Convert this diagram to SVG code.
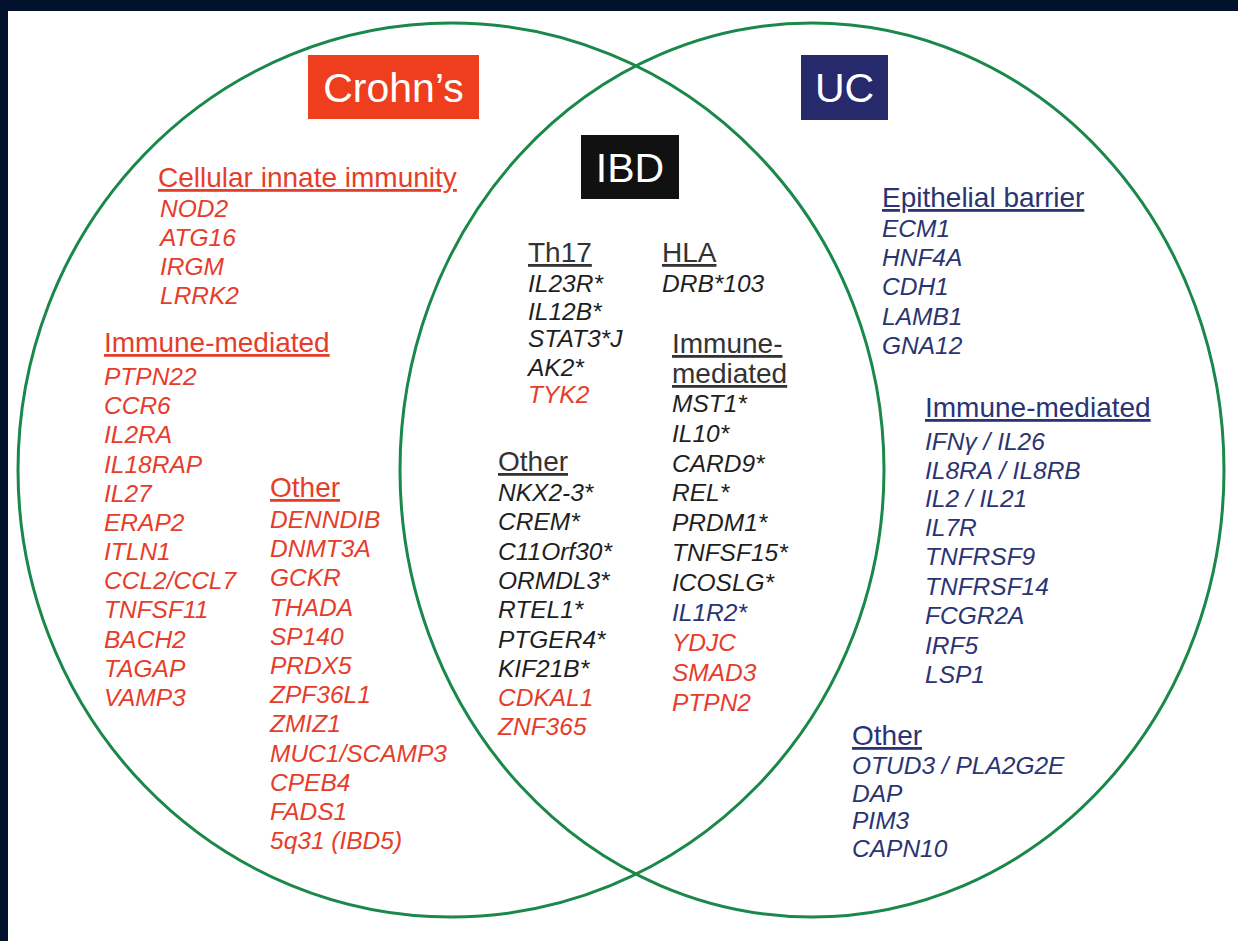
<svg xmlns="http://www.w3.org/2000/svg" width="1238" height="941" viewBox="0 0 1238 941">
<style>
text{font-family:"Liberation Sans",Arial,sans-serif}
.h{font-size:28px;text-decoration:underline}
.g{font-size:24.5px;font-style:italic}
.r{fill:#e63d2a}
.b{fill:#2b3472}
.k{fill:#1f1f1f}
.hk{fill:#333333}
.box{font-size:41px;fill:#ffffff;text-anchor:middle}
.ring{fill:none;stroke:#19884a;stroke-width:3}
</style>
<rect x="0" y="0" width="1238" height="941" fill="#ffffff"/>
<rect x="0" y="0" width="1238" height="11" fill="#01102b"/>
<rect x="0" y="0" width="8" height="941" fill="#01102b"/>
<g id="connectors">
<ellipse class="ring" cx="451" cy="470" rx="433" ry="447"/>
<ellipse class="ring" cx="812" cy="470" rx="412" ry="447"/>
</g>
<g id="crohns-label">
<rect x="308" y="55" width="171" height="64" fill="#ef3e1e"/>
<text class="box" x="393.5" y="102">Crohn’s</text>
</g>
<g id="uc-label">
<rect x="801" y="55" width="87" height="65" fill="#262a6d"/>
<text class="box" x="844.5" y="102">UC</text>
</g>
<g id="ibd-label">
<rect x="581" y="135" width="98" height="64" fill="#111111"/>
<text class="box" x="630" y="182">IBD</text>
</g>
<g id="crohns-innate">
<text class="h r" x="158" y="187">Cellular innate immunity</text>
<text class="g r" x="160" y="217">NOD2</text>
<text class="g r" x="160" y="246">ATG16</text>
<text class="g r" x="160" y="275">IRGM</text>
<text class="g r" x="160" y="304">LRRK2</text>
</g>
<g id="crohns-immune">
<text class="h r" x="104" y="352">Immune-mediated</text>
<text class="g r" x="104" y="385">PTPN22</text>
<text class="g r" x="104" y="414">CCR6</text>
<text class="g r" x="104" y="443">IL2RA</text>
<text class="g r" x="104" y="473">IL18RAP</text>
<text class="g r" x="104" y="502">IL27</text>
<text class="g r" x="104" y="531">ERAP2</text>
<text class="g r" x="104" y="560">ITLN1</text>
<text class="g r" x="104" y="589">CCL2/CCL7</text>
<text class="g r" x="104" y="618">TNFSF11</text>
<text class="g r" x="104" y="648">BACH2</text>
<text class="g r" x="104" y="677">TAGAP</text>
<text class="g r" x="104" y="706">VAMP3</text>
</g>
<g id="crohns-other">
<text class="h r" x="270" y="497">Other</text>
<text class="g r" x="270" y="528">DENNDIB</text>
<text class="g r" x="270" y="557">DNMT3A</text>
<text class="g r" x="270" y="586">GCKR</text>
<text class="g r" x="270" y="616">THADA</text>
<text class="g r" x="270" y="645">SP140</text>
<text class="g r" x="270" y="674">PRDX5</text>
<text class="g r" x="270" y="703">ZPF36L1</text>
<text class="g r" x="270" y="732">ZMIZ1</text>
<text class="g r" x="270" y="762">MUC1/SCAMP3</text>
<text class="g r" x="270" y="791">CPEB4</text>
<text class="g r" x="270" y="820">FADS1</text>
<text class="g r" x="270" y="849">5q31 (IBD5)</text>
</g>
<g id="ibd-th17">
<text class="h hk" x="528" y="262">Th17</text>
<text class="g k" x="528" y="292">IL23R*</text>
<text class="g k" x="528" y="320">IL12B*</text>
<text class="g k" x="528" y="347">STAT3*J</text>
<text class="g k" x="528" y="376">AK2*</text>
<text class="g r" x="528" y="403">TYK2</text>
</g>
<g id="ibd-hla">
<text class="h hk" x="662" y="262">HLA</text>
<text class="g k" x="662" y="292">DRB*103</text>
</g>
<g id="ibd-immune">
<text class="h hk" x="672" y="353">Immune-</text>
<text class="h hk" x="672" y="383">mediated</text>
<text class="g k" x="672" y="412">MST1*</text>
<text class="g k" x="672" y="442">IL10*</text>
<text class="g k" x="672" y="472">CARD9*</text>
<text class="g k" x="672" y="501">REL*</text>
<text class="g k" x="672" y="531">PRDM1*</text>
<text class="g k" x="672" y="561">TNFSF15*</text>
<text class="g k" x="672" y="591">ICOSLG*</text>
<text class="g b" x="672" y="621">IL1R2*</text>
<text class="g r" x="672" y="651">YDJC</text>
<text class="g r" x="672" y="681">SMAD3</text>
<text class="g r" x="672" y="711">PTPN2</text>
</g>
<g id="ibd-other">
<text class="h hk" x="498" y="471">Other</text>
<text class="g k" x="498" y="501">NKX2-3*</text>
<text class="g k" x="498" y="530">CREM*</text>
<text class="g k" x="498" y="560">C11Orf30*</text>
<text class="g k" x="498" y="589">ORMDL3*</text>
<text class="g k" x="498" y="618">RTEL1*</text>
<text class="g k" x="498" y="648">PTGER4*</text>
<text class="g k" x="498" y="677">KIF21B*</text>
<text class="g r" x="498" y="706">CDKAL1</text>
<text class="g r" x="498" y="735">ZNF365</text>
</g>
<g id="uc-epithelial">
<text class="h b" x="882" y="207">Epithelial barrier</text>
<text class="g b" x="882" y="237">ECM1</text>
<text class="g b" x="882" y="266">HNF4A</text>
<text class="g b" x="882" y="295">CDH1</text>
<text class="g b" x="882" y="325">LAMB1</text>
<text class="g b" x="882" y="354">GNA12</text>
</g>
<g id="uc-immune">
<text class="h b" x="925" y="417">Immune-mediated</text>
<text class="g b" x="925" y="450">IFNγ / IL26</text>
<text class="g b" x="925" y="479">IL8RA / IL8RB</text>
<text class="g b" x="925" y="507">IL2 / IL21</text>
<text class="g b" x="925" y="536">IL7R</text>
<text class="g b" x="925" y="565">TNFRSF9</text>
<text class="g b" x="925" y="595">TNFRSF14</text>
<text class="g b" x="925" y="624">FCGR2A</text>
<text class="g b" x="925" y="654">IRF5</text>
<text class="g b" x="925" y="683">LSP1</text>
</g>
<g id="uc-other">
<text class="h b" x="852" y="745">Other</text>
<text class="g b" x="852" y="774">OTUD3 / PLA2G2E</text>
<text class="g b" x="852" y="802">DAP</text>
<text class="g b" x="852" y="829">PIM3</text>
<text class="g b" x="852" y="857">CAPN10</text>
</g>
</svg>
